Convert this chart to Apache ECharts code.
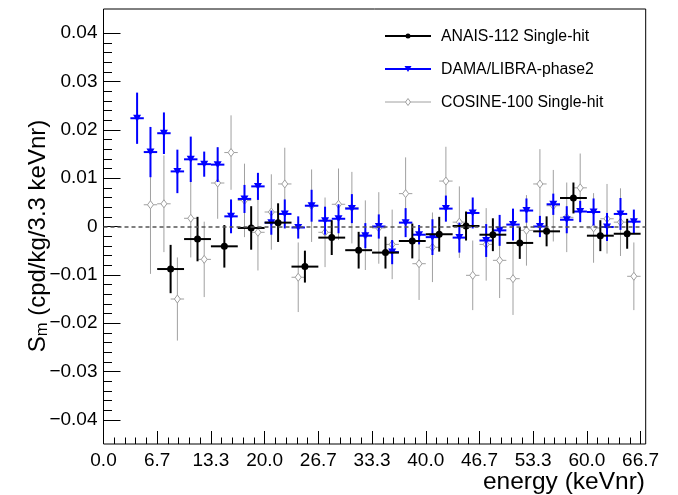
<!DOCTYPE html>
<html><head><meta charset="utf-8">
<script src="https://cdn.jsdelivr.net/npm/echarts@6/dist/echarts.min.js"></script>
<style>html,body{margin:0;padding:0;background:#fff;}#c{width:678px;height:495px;}</style>
</head><body><div id="c"></div>
<script>
// ---------------- data ----------------
const xTickLabels = ['0.0','6.7','13.3','20.0','26.7','33.3','40.0','46.7','53.3','60.0','66.7'];
const yTickLabels = ['\u22120.04','\u22120.03','\u22120.02','\u22120.01','0','0.01','0.02','0.03','0.04'];

const anaisE   = [8.33,11.67,15.0,18.33,21.67,25.0,28.33,31.67,35.0,38.33,41.67,45.0,48.33,51.67,55.0,58.33,61.67,65.0];
const anaisSm  = [-0.0088,-0.0026,-0.0041,-0.0003,0.0008,-0.0083,-0.0023,-0.0049,-0.0054,-0.0030,-0.0016,0.0001,-0.0017,-0.0034,-0.0010,0.0059,-0.0019,-0.0015];
const anaisErr = [0.0050,0.0046,0.0044,0.0045,0.0040,0.0033,0.0036,0.0038,0.0033,0.0036,0.0036,0.0030,0.0034,0.0033,0.0031,0.0032,0.0032,0.0031];
const anaisHalfBin = 1.667;

const damaE   = [4.17,5.83,7.5,9.17,10.83,12.5,14.17,15.83,17.5,19.17,20.83,22.5,24.17,25.83,27.5,29.17,30.83,32.5,34.17,35.83,37.5,39.17,40.83,42.5,44.17,45.83,47.5,49.17,50.83,52.5,54.17,55.83,57.5,59.17,60.83,62.5,64.17,65.83];
const damaSm  = [0.0224,0.0154,0.0193,0.0114,0.0139,0.0129,0.0128,0.0021,0.0057,0.0083,0.0008,0.0026,-0.0002,0.0043,0.0012,0.0016,0.0037,-0.0019,0.0000,-0.0053,0.0008,-0.0017,-0.0022,0.0037,-0.0023,0.0028,-0.0029,-0.0008,0.0004,0.0033,0.0000,0.0046,0.0014,0.0031,0.0030,-0.0001,0.0026,0.0010];
const damaErr = [0.0053,0.0052,0.0043,0.0045,0.0047,0.0026,0.0036,0.0035,0.0029,0.0028,0.0025,0.0030,0.0023,0.0033,0.0029,0.0030,0.0030,0.0026,0.0025,0.0025,0.0030,0.0020,0.0037,0.0027,0.0031,0.0032,0.0034,0.0032,0.0033,0.0025,0.0022,0.0022,0.0028,0.0022,0.0028,0.0029,0.0033,0.0025];
const damaHalfBin = 0.833;

const cosineE   = [5.83,7.5,9.17,10.83,12.5,14.17,15.83,17.5,19.17,20.83,22.5,24.17,25.83,27.5,29.17,30.83,32.5,34.17,35.83,37.5,39.17,40.83,42.5,44.17,45.83,47.5,49.17,50.83,52.5,54.17,55.83,57.5,59.17,60.83,62.5,64.17,65.83];
const cosineSm  = [0.0045,0.0047,-0.0150,0.0017,-0.0068,0.0090,0.0153,0.0054,-0.0012,0.0030,0.0088,-0.0105,0.0043,-0.0012,0.0046,0.0039,-0.0018,-0.0003,-0.0037,0.0068,-0.0077,-0.0043,0.0094,0.0009,-0.0101,-0.0037,-0.0070,-0.0108,-0.0008,0.0088,0.0043,0.0019,0.0080,-0.0003,0.0016,0.0009,-0.0103];
const cosineErr = [0.0143,0.0100,0.0086,0.0081,0.0078,0.0074,0.0077,0.0076,0.0079,0.0078,0.0075,0.0072,0.0075,0.0072,0.0074,0.0074,0.0072,0.0074,0.0072,0.0075,0.0075,0.0072,0.0071,0.0074,0.0072,0.0075,0.0078,0.0075,0.0073,0.0072,0.0074,0.0072,0.0071,0.0072,0.0072,0.0070,0.0070];
const cosineHalfBin = 0.833;

const seriesNames = ['ANAIS-112 Single-hit','DAMA/LIBRA-phase2','COSINE-100 Single-hit'];

// ---------------- build ----------------
const FONT = 'Liberation Sans, Arial, Helvetica, sans-serif';
const XMAX = 67.3;
const xTickVals = xTickLabels.map(s => parseFloat(s));

function mk(E, S, Er, hb){ return E.map((e,i)=>[e, S[i], Er[i], hb]); }

function renderer(kind){
  return function(params, api){
    const x = api.value(0), y = api.value(1), ey = api.value(2), ex = api.value(3);
    const c = api.coord([x,y]);
    const l = api.coord([x-ex,y]), r = api.coord([x+ex,y]);
    const t = api.coord([x,y+ey]), b = api.coord([x,y-ey]);
    let col, lw;
    if (kind==='black'){col='#000000'; lw=2;}
    else if (kind==='blue'){col='#0000ff'; lw=2;}
    else {col='#a0a0a0'; lw=1;}
    const ch = [
      {type:'line', shape:{x1:l[0],y1:c[1],x2:r[0],y2:c[1]}, style:{stroke:col,lineWidth:lw}},
      {type:'line', shape:{x1:c[0],y1:t[1],x2:c[0],y2:b[1]}, style:{stroke:col,lineWidth:lw}}
    ];
    if (kind==='black'){
      ch.push({type:'circle', shape:{cx:c[0],cy:c[1],r:3.5}, style:{fill:'#000'}});
    } else if (kind==='blue'){
      ch.push({type:'polygon', shape:{points:[[c[0]-4,c[1]-3.5],[c[0]+4,c[1]-3.5],[c[0],c[1]+3.5]]}, style:{fill:'#0000ff'}});
    } else {
      ch.push({type:'polygon', shape:{points:[[c[0],c[1]-4],[c[0]+3,c[1]],[c[0],c[1]+4],[c[0]-3,c[1]]]}, style:{fill:'#ffffff',stroke:'#a0a0a0',lineWidth:1}});
    }
    return {type:'group', children:ch};
  };
}

function legendItem(y, kind, label){
  let col = kind==='black'?'#000':(kind==='blue'?'#0000ff':'#a0a0a0');
  let lw = kind==='gray'?1:2;
  const cx = 408, items = [
    {type:'line', shape:{x1:385,y1:y,x2:431,y2:y}, style:{stroke:col,lineWidth:lw}}
  ];
  if (kind==='black') items.push({type:'circle', shape:{cx:cx,cy:y,r:2.5}, style:{fill:'#000'}});
  else if (kind==='blue') items.push({type:'polygon', shape:{points:[[cx-3.5,y-3],[cx+3.5,y-3],[cx,y+3]]}, style:{fill:'#0000ff'}});
  else items.push({type:'polygon', shape:{points:[[cx,y-3.5],[cx+2.5,y],[cx,y+3.5],[cx-2.5,y]]}, style:{fill:'#fff',stroke:'#a0a0a0',lineWidth:1}});
  items.push({type:'text', x:441, y:y+1, style:{text:label, font:'15.8px '+FONT, fill:'#000', verticalAlign:'middle', align:'left'}});
  return items;
}

const chart = echarts.init(document.getElementById('c'), null, {renderer:'canvas'});
const option = {
  animation:false,
  backgroundColor:'#ffffff',
  grid:[
    {left:103.5, right:32.3, top:9, bottom:51, show:true, borderColor:'#000', borderWidth:1, backgroundColor:'transparent'},
    {left:103.5, right:678-103.5-66.6667*(542.2/XMAX), top:9, bottom:51},
    {left:103.5, right:32.3, top:9+435/18, bottom:51+435/18}
  ],
  xAxis:[
    {gridIndex:0, type:'value', min:0, max:XMAX, axisLine:{show:false}, axisTick:{show:false}, axisLabel:{show:false}, splitLine:{show:false}},
    {gridIndex:1, type:'value', min:0, max:66.6667, interval:6.66667,
      axisLine:{show:false}, splitLine:{show:false},
      axisTick:{show:true, inside:true, length:13, lineStyle:{color:'#000',width:1}},
      minorTick:{show:true, splitNumber:5, length:6.5, lineStyle:{color:'#000',width:1}},
      axisLabel:{color:'#000', fontSize:19, fontFamily:FONT, margin:7,
        formatter:function(v){ const i = xTickVals.findIndex(t=>Math.abs(t-v)<0.06); return i>=0?xTickLabels[i]:''; }}},
    {gridIndex:2, type:'value', min:0, max:1, show:false}
  ],
  yAxis:[
    {gridIndex:0, type:'value', min:-0.045, max:0.045, axisLine:{show:false}, axisTick:{show:false}, axisLabel:{show:false}, splitLine:{show:false}},
    {gridIndex:1, type:'value', min:0, max:1, show:false},
    {gridIndex:2, type:'value', min:-0.04, max:0.04, interval:0.01,
      axisLine:{show:false}, splitLine:{show:false},
      axisTick:{show:true, inside:true, length:17, lineStyle:{color:'#000',width:1}},
      minorTick:{show:true, splitNumber:5, length:8.5, lineStyle:{color:'#000',width:1}},
      axisLabel:{color:'#000', fontSize:19, fontFamily:FONT, margin:6,
        formatter:function(v){ const i = Math.round(v*100)+4; return yTickLabels[i]||''; }}}
  ],
  graphic:[
    {type:'text', x:38, y:236, rotation:Math.PI/2,
      style:{text:'{s|S}{m|m}{t| (cpd/kg/3.3 keVnr)}', align:'center', verticalAlign:'middle',
        rich:{s:{fontSize:24,fontFamily:FONT,fill:'#000'}, m:{fontSize:16.5,fontFamily:FONT,fill:'#000',verticalAlign:'bottom', padding:[8,0,0,0]}, t:{fontSize:24,fontFamily:FONT,fill:'#000'}}}},
    {type:'text', x:645, y:482, style:{text:'energy (keVnr)', font:'24.5px '+FONT, fill:'#000', align:'right', verticalAlign:'middle'}},
    ...legendItem(36, 'black', seriesNames[0]),
    ...legendItem(69, 'blue', seriesNames[1]),
    ...legendItem(102, 'gray', seriesNames[2])
  ],
  series:[
    {type:'custom', name:seriesNames[2], xAxisIndex:0, yAxisIndex:0, renderItem:renderer('gray'), data:mk(cosineE,cosineSm,cosineErr,cosineHalfBin), z:2,
      markLine:{silent:true, symbol:'none', label:{show:false}, lineStyle:{type:[4,3], color:'#555', width:1.5}, data:[{yAxis:0}]}},
    {type:'custom', name:seriesNames[1], xAxisIndex:0, yAxisIndex:0, renderItem:renderer('blue'), data:mk(damaE,damaSm,damaErr,damaHalfBin), z:3},
    {type:'custom', name:seriesNames[0], xAxisIndex:0, yAxisIndex:0, renderItem:renderer('black'), data:mk(anaisE,anaisSm,anaisErr,anaisHalfBin), z:4}
  ]
};
chart.setOption(option);
</script>
</body></html>
